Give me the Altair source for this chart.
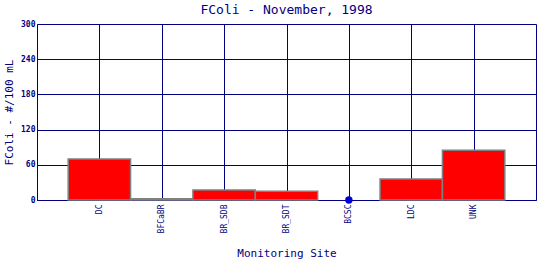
import altair as alt
import pandas as pd

sites = ["DC", "BFCaBR", "BR_SDB", "BR_SDT", "BCSC", "LDC", "UNK"]
values = [70, 2, 17, 15, 0, 36, 85]
y_ticks = [0, 60, 120, 180, 240, 300]

df = pd.DataFrame({"site": sites, "value": values})
df["pos"] = list(range(1, len(sites) + 1))

NAVY = "#000080"
FONT = "DejaVu Sans Mono"
n = len(sites) + 1
label_arr = "[" + ",".join(["''"] + ["'%s'" % s for s in sites] + ["''"]) + "]"

xscale = alt.Scale(domain=[0, n], nice=False, zero=False, padding=0)
yscale = alt.Scale(domain=[0, 300], nice=False, padding=0)

xaxis = alt.Axis(
    values=list(range(n + 1)), labelExpr=label_arr + "[datum.value]",
    labelAngle=-90, labelAlign="right", labelBaseline="middle",
    labelFont=FONT, labelFontSize=8, labelColor=NAVY, labelPadding=4,
    ticks=False, grid=True, gridColor=NAVY, gridOpacity=1, gridWidth=1,
    domainColor=NAVY, domainOpacity=1, title="Monitoring Site", titleFont=FONT,
    titleFontSize=11, titleFontWeight="normal", titleColor=NAVY,
    titlePadding=15, labelOverlap=False, labelBound=False, labelFlush=False,
)
yaxis = alt.Axis(
    values=y_ticks, labelFont=FONT, labelFontSize=8, labelFontWeight="bold",
    labelColor=NAVY, labelPadding=2, ticks=False, grid=True, gridColor=NAVY,
    gridOpacity=1, gridWidth=1, domainColor=NAVY, title="FColi - #/100 mL",
    titleFont=FONT, titleFontSize=11, titleFontWeight="normal",
    titleColor=NAVY, titlePadding=6, labelOverlap=False, labelFlush=False,
)

base = alt.Chart(df)
bars = base.transform_filter("datum.value > 0").transform_calculate(
    x0="datum.pos - 0.5", x1="datum.pos + 0.5"
).mark_bar(color="#ff0000", stroke="#808080", strokeWidth=1.5, orient="vertical").encode(
    x=alt.X("x0:Q", scale=xscale, axis=xaxis),
    x2="x1:Q",
    y=alt.Y("value:Q", scale=yscale, axis=yaxis),
    y2=alt.Y2(datum=0),
)
dots = base.transform_filter("datum.value == 0").mark_circle(
    color="#0000dd", size=55, opacity=1
).encode(
    x=alt.X("pos:Q", scale=xscale, axis=xaxis),
    y=alt.Y("value:Q", scale=yscale, axis=yaxis),
)

chart = alt.layer(bars, dots).properties(
    width=499, height=176,
    title=alt.TitleParams("FColi - November, 1998", font=FONT, fontSize=13,
                          fontWeight="normal", color=NAVY, anchor="middle", offset=3),
    autosize=alt.AutoSizeParams(type="none"),
    padding={"left": 37, "top": 24, "right": 4, "bottom": 60},
).configure_view(stroke=NAVY, strokeWidth=1).configure(background="white")

chart.save("out.html", embed_options={"renderer": "svg", "actions": False})
